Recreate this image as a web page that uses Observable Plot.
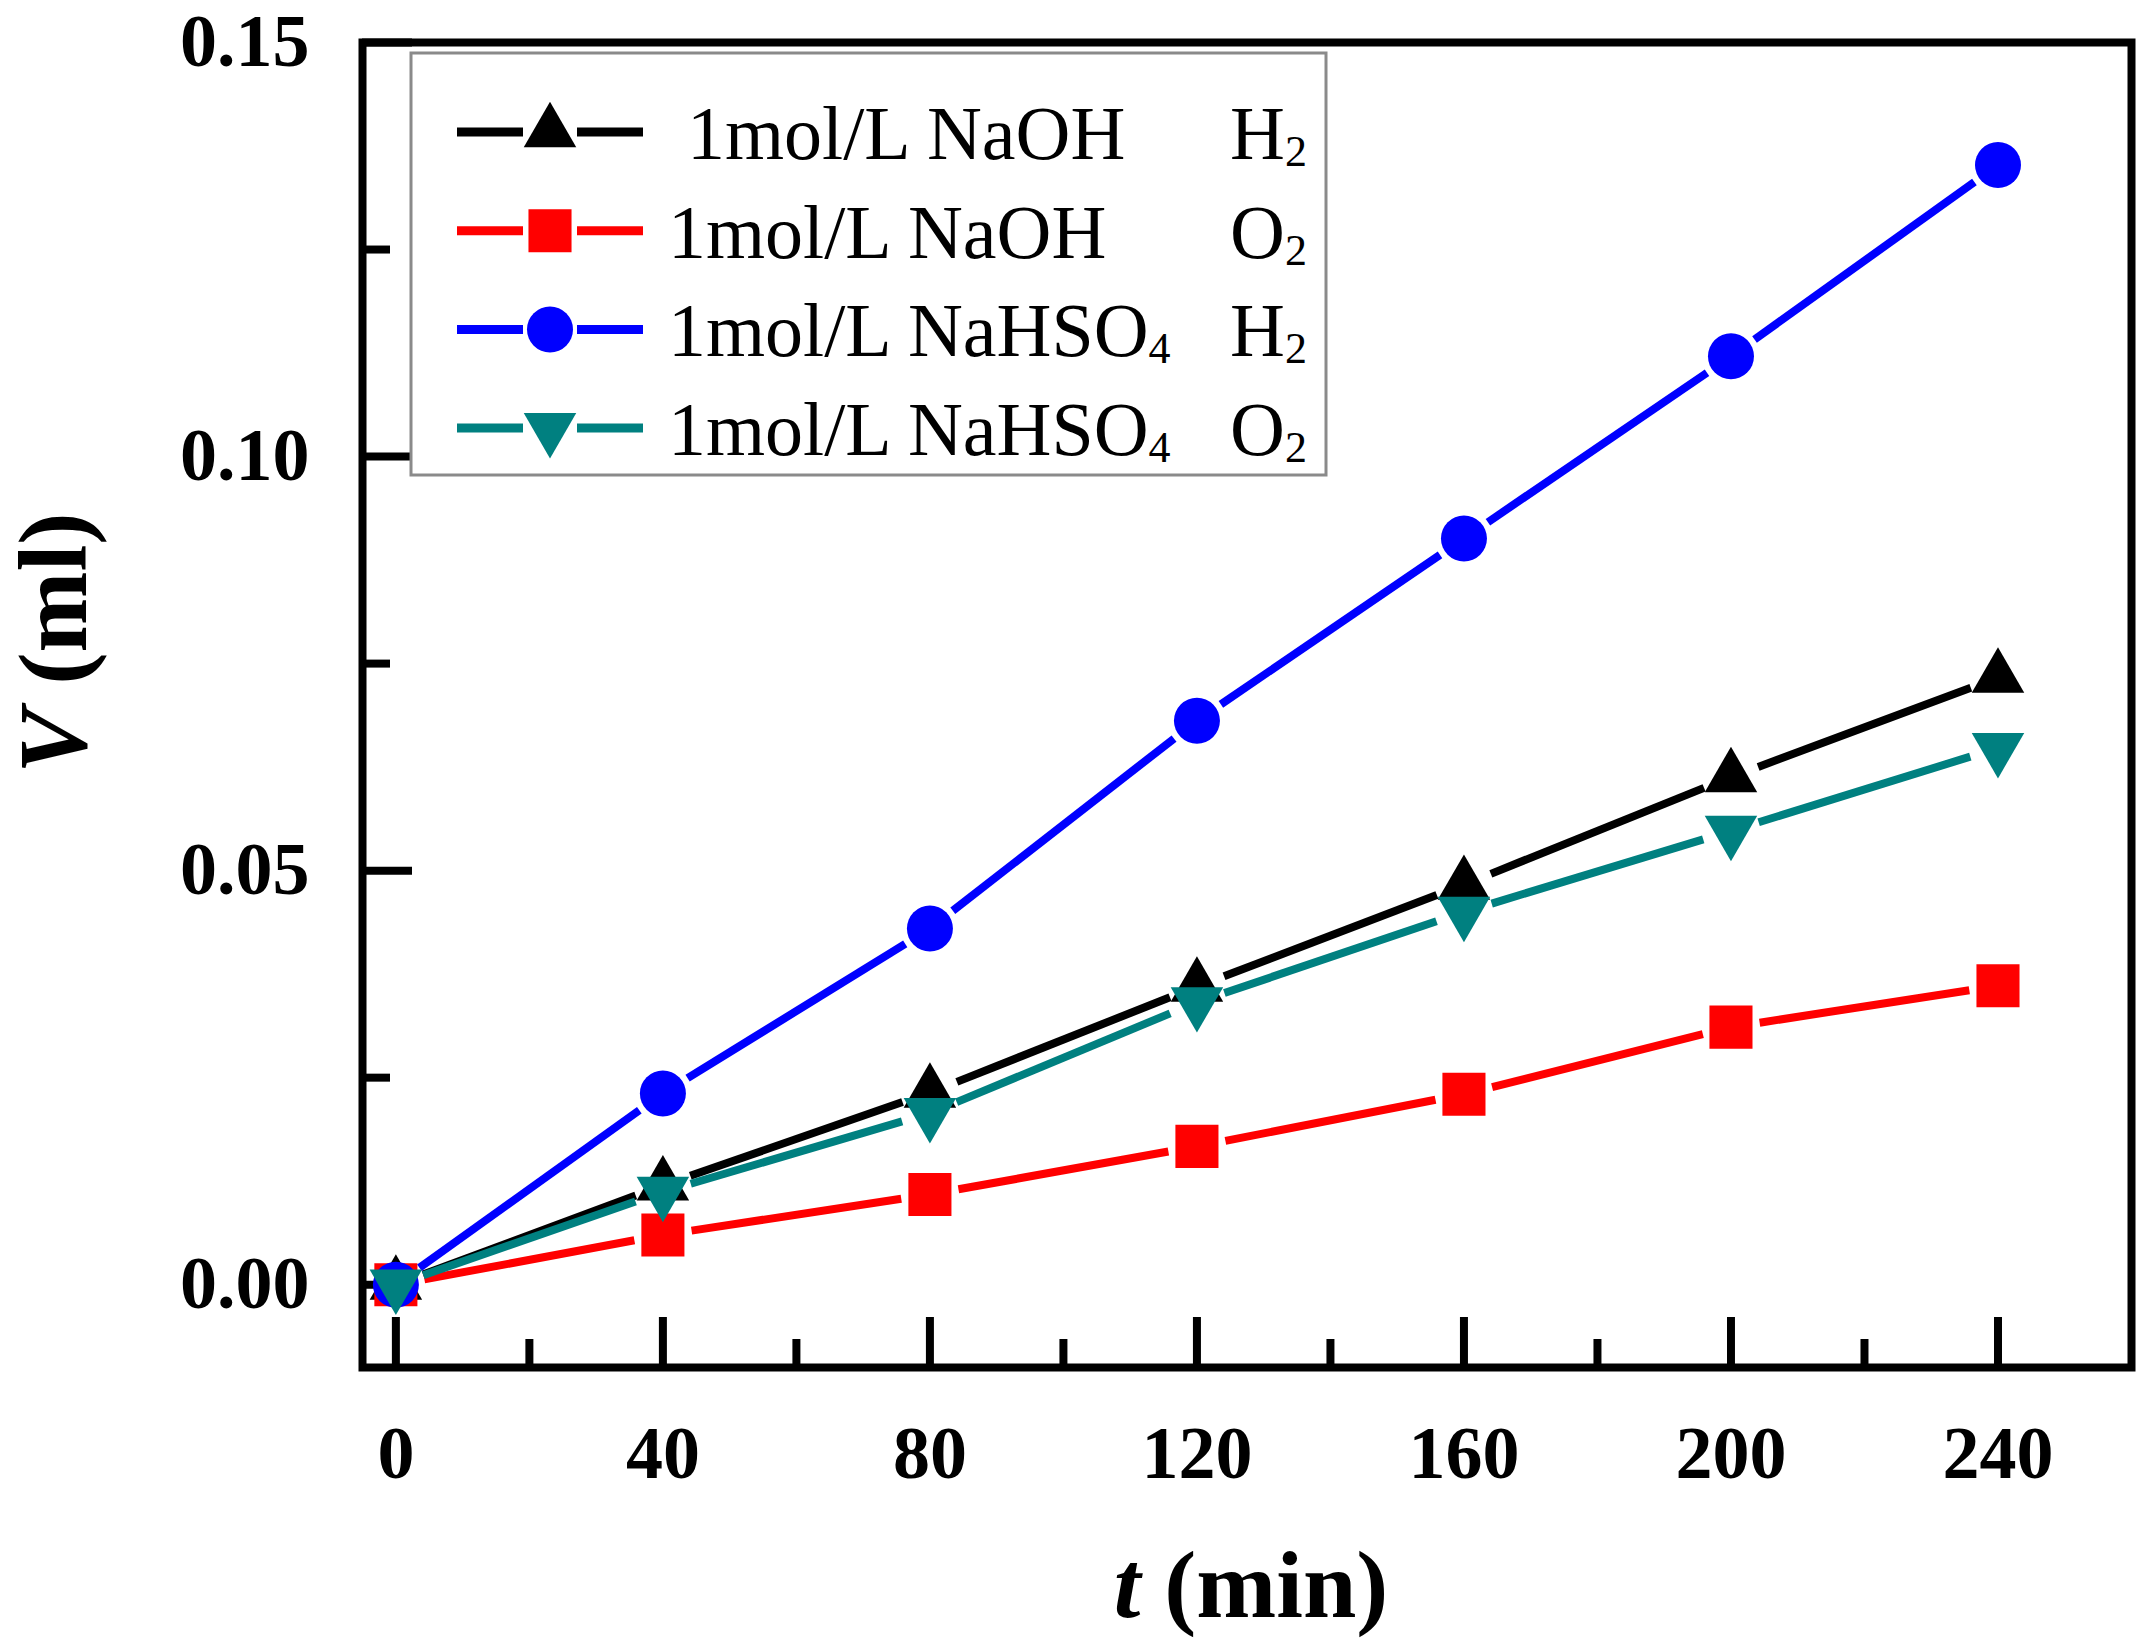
<!DOCTYPE html>
<html>
<head>
<meta charset="utf-8">
<script src="https://cdn.jsdelivr.net/npm/d3@7"></script>
<script src="https://cdn.jsdelivr.net/npm/@observablehq/plot@0.6"></script>
<style>
  html, body { margin: 0; padding: 0; background: #ffffff; }
  svg { display: block; }
</style>
</head>
<body>
<div id="chart"></div>
<script>
// ---------------- data ----------------
const times = [0, 40, 80, 120, 160, 200, 240];
const naohH2   = [0, 0.0120, 0.0232, 0.0360, 0.0483, 0.0613, 0.0733];
const naohO2   = [0, 0.0060, 0.0109, 0.0167, 0.0230, 0.0311, 0.0361];
const nahso4H2 = [0, 0.0231, 0.0430, 0.0681, 0.0901, 0.1121, 0.1352];
const nahso4O2 = [0, 0.0112, 0.0207, 0.0341, 0.0450, 0.0548, 0.0648];

const legendLabels = [" 1mol/L NaOH", "1mol/L NaOH", "1mol/L NaHSO4", "1mol/L NaHSO4"];
const legendGases  = ["H2", "O2", "H2", "O2"];

const xMajorTicks = [0, 40, 80, 120, 160, 200, 240];
const xMinorTicks = [20, 60, 100, 140, 180, 220];
const yMajorTicks = [0, 0.05, 0.10, 0.15];
const yMinorTicks = [0.025, 0.075, 0.125];
const xDomain = [-5, 260];
const yDomain = [-0.01, 0.15];

// ---------------- styling ----------------
const seriesValues = [naohH2, naohO2, nahso4H2, nahso4O2];
const colors = ["#000000", "#ff0000", "#0000ff", "#008080"];
const triangleDown = {
  draw(context, size) {
    const s3 = Math.sqrt(3);
    const y = -Math.sqrt(size / (s3 * 3));
    context.moveTo(0, -y * 2);
    context.lineTo(-s3 * y, y);
    context.lineTo(s3 * y, y);
    context.closePath();
  }
};
const symbols = [d3.symbolTriangle, d3.symbolSquare, d3.symbolCircle, triangleDown];
const radii = [19.5, 24.3, 23, 19.5];
const serif = "'Liberation Serif', 'Times New Roman', Times, serif";

const W = 2146, H = 1648;
const mLeft = 362, mRight = 15, mTop = 42, mBottom = 281;

// derived tables
const series = seriesValues.map((vals, k) => ({
  k,
  points: times.map((t, i) => ({t, v: vals[i]})),
  segments: times.slice(1).map((t, i) => ({t1: times[i], v1: vals[i], t2: t, v2: vals[i + 1]}))
}));

const marks = [
  // inner ticks
  Plot.axisX(xMajorTicks, {anchor: "bottom", tickSize: -50, fill: "none", stroke: "black", strokeWidth: 8, label: null}),
  Plot.axisX(xMinorTicks, {anchor: "bottom", tickSize: -28, fill: "none", stroke: "black", strokeWidth: 8, label: null}),
  Plot.axisY(yMajorTicks, {anchor: "left", tickSize: -50, fill: "none", stroke: "black", strokeWidth: 8, label: null}),
  Plot.axisY(yMinorTicks, {anchor: "left", tickSize: -28, fill: "none", stroke: "black", strokeWidth: 8, label: null}),
  // tick labels
  Plot.axisX(xMajorTicks, {anchor: "bottom", tickSize: 0, tickPadding: 58, tickFormat: d3.format("d"),
    fontSize: 74, fontWeight: "bold", fontFamily: serif, fill: "black", label: null}),
  Plot.axisY(yMajorTicks, {anchor: "left", tickSize: 0, tickPadding: 53, tickFormat: d3.format(".2f"),
    fontSize: 74, fontWeight: "bold", fontFamily: serif, fill: "black", label: null}),
];

for (const s of series) {
  marks.push(Plot.arrow(s.segments, {
    x1: "t1", y1: "v1", x2: "t2", y2: "v2",
    stroke: colors[s.k], strokeWidth: 8, headLength: 0, inset: 29,
    strokeLinecap: "butt", strokeLinejoin: "miter"
  }));
  marks.push(Plot.dot(s.points, {
    x: "t", y: "v", symbol: symbols[s.k], r: radii[s.k], fill: colors[s.k], stroke: "none"
  }));
}
marks.push(Plot.frame({stroke: "black", strokeWidth: 8}));

const plot = Plot.plot({
  width: W,
  height: H,
  marginLeft: mLeft,
  marginRight: mRight,
  marginTop: mTop,
  marginBottom: mBottom,
  x: {domain: xDomain, axis: null},
  y: {domain: yDomain, axis: null},
  style: {fontFamily: serif, background: "#ffffff", color: "black", overflow: "visible"},
  marks
});
document.getElementById("chart").appendChild(plot);

// ---------------- axis titles & legend ----------------
const svg = d3.select(plot);

function addRich(textSel, str, subSize) {
  // digits that follow a letter are drawn as subscripts
  let buf = "";
  const flush = () => { if (buf) { textSel.append("tspan").text(buf); buf = ""; } };
  let shifted = false;
  for (let i = 0; i < str.length; i++) {
    const ch = str[i];
    if (/\d/.test(ch) && i > 0 && /[A-Za-z]/.test(str[i - 1])) {
      flush();
      textSel.append("tspan").attr("font-size", subSize).attr("dy", shifted ? 0 : 7).text(ch);
      shifted = true;
    } else {
      if (shifted) { textSel.append("tspan").attr("dy", -7).text(ch); shifted = false; continue; }
      buf += ch;
    }
  }
  flush();
}

// y title
const yt = svg.append("text")
  .attr("transform", "translate(86,643) rotate(-90)")
  .attr("text-anchor", "middle")
  .attr("font-family", serif).attr("font-size", 97).attr("font-weight", "bold")
  .attr("fill", "black").style("white-space", "pre");
yt.append("tspan").attr("font-style", "italic").text("V");
yt.append("tspan").text(" (ml)");

// x title
const xt = svg.append("text")
  .attr("x", 1251).attr("y", 1617)
  .attr("text-anchor", "middle")
  .attr("font-family", serif).attr("font-size", 96).attr("font-weight", "bold")
  .attr("fill", "black").style("white-space", "pre");
xt.append("tspan").attr("font-style", "italic").text("t");
xt.append("tspan").text(" (min)");

// legend
const lg = svg.append("g").attr("text-anchor", "start");
lg.append("rect").attr("x", 411).attr("y", 53).attr("width", 915).attr("height", 422)
  .attr("fill", "white").attr("stroke", "#8a8a8a").attr("stroke-width", 3);
legendLabels.forEach((lab, k) => {
  const cy = 132 + 98.7 * k;
  lg.append("line").attr("x1", 457).attr("x2", 523).attr("y1", cy).attr("y2", cy)
    .attr("stroke", colors[k]).attr("stroke-width", 9);
  lg.append("line").attr("x1", 577).attr("x2", 643).attr("y1", cy).attr("y2", cy)
    .attr("stroke", colors[k]).attr("stroke-width", 9);
  lg.append("path")
    .attr("d", d3.symbol(symbols[k], Math.PI * radii[k] * radii[k])())
    .attr("transform", `translate(550,${cy})`)
    .attr("fill", colors[k]);
  const t1 = lg.append("text").attr("x", 668).attr("y", cy + 27)
    .attr("text-anchor", "start")
    .attr("font-family", serif).attr("font-size", 76).attr("fill", "black")
    .style("white-space", "pre");
  addRich(t1, lab, 44);
  const t2 = lg.append("text").attr("x", 1230).attr("y", cy + 27)
    .attr("text-anchor", "start")
    .attr("font-family", serif).attr("font-size", 76).attr("fill", "black")
    .style("white-space", "pre");
  addRich(t2, legendGases[k], 44);
});
</script>
</body>
</html>
